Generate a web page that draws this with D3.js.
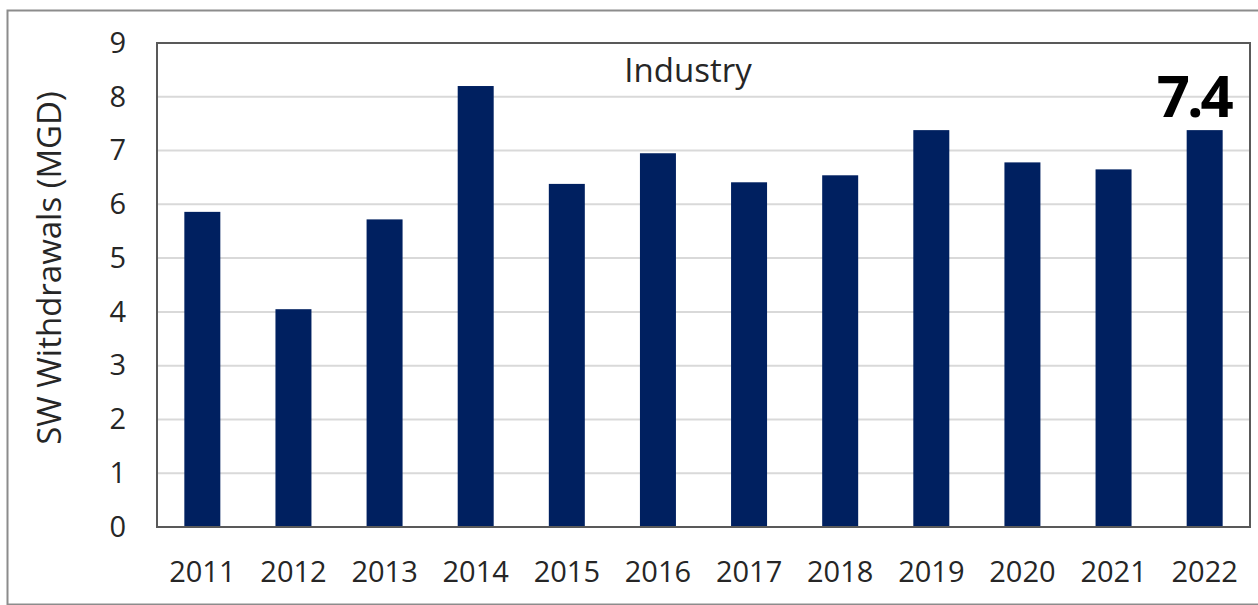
<!DOCTYPE html>
<html>
<head>
<meta charset="utf-8">
<script src="https://cdn.jsdelivr.net/npm/d3@7"></script>
<style>
  body { margin: 0; background: #fff; }
  svg { display: block; font-family: "Open Sans", sans-serif; }
</style>
</head>
<body>
<div id="chart"></div>
<script>
// Data
const years = ["2011", "2012", "2013", "2014", "2015", "2016", "2017", "2018", "2019", "2020", "2021", "2022"];
const withdrawals = [5.86, 4.05, 5.72, 8.2, 6.38, 6.95, 6.41, 6.54, 7.38, 6.78, 6.65, 7.38];
const yTicks = [0, 1, 2, 3, 4, 5, 6, 7, 8, 9];
const chartTitle = "Industry";
const yTitle = "SW Withdrawals (MGD)";
const lastLabel = "7.4";

const W = 1258, H = 605;
const margin = {top: 43, right: 8, bottom: 78, left: 157};
const width = W - margin.left - margin.right;
const height = H - margin.top - margin.bottom;

const data = years.map((y, i) => ({year: y, value: withdrawals[i]}));

const root = d3.select("#chart")
    .append("svg")
    .attr("width", W)
    .attr("height", H);

// outer border of the picture
root.append("rect")
    .attr("x", 7.5)
    .attr("y", 10.5)
    .attr("width", 1262)
    .attr("height", 594)
    .attr("fill", "none")
    .attr("stroke", "#8c8c8c")
    .attr("stroke-width", 2);

const svg = root.append("g")
    .attr("transform", `translate(${margin.left},${margin.top})`);

const x = d3.scaleBand()
    .domain(years)
    .range([0, width])
    .paddingInner(0.605)
    .paddingOuter(0.3);

const y = d3.scaleLinear()
    .domain([0, 9])
    .range([height, 0]);

// gridlines
svg.append("g")
    .selectAll("line")
    .data(yTicks.filter(t => t > 0 && t < 9))
    .join("line")
    .attr("x1", 0)
    .attr("x2", width)
    .attr("y1", d => y(d))
    .attr("y2", d => y(d))
    .attr("stroke", "#d9d9d9")
    .attr("stroke-width", 2);

// bars
svg.append("g")
    .selectAll("rect")
    .data(data)
    .join("rect")
    .attr("x", d => x(d.year))
    .attr("y", d => y(d.value))
    .attr("width", x.bandwidth())
    .attr("height", d => height - y(d.value))
    .attr("fill", "#002060");

// plot frame
svg.append("rect")
    .attr("x", 0)
    .attr("y", 0)
    .attr("width", width)
    .attr("height", height)
    .attr("fill", "none")
    .attr("stroke", "#595959")
    .attr("stroke-width", 2);

// axes
const xAxis = svg.append("g")
    .attr("transform", `translate(0,${height})`)
    .call(d3.axisBottom(x).tickSize(0).tickPadding(34));
xAxis.select(".domain").remove();
xAxis.selectAll("text")
    .style("font-family", "'Open Sans', sans-serif")
    .style("font-size", "29px")
    .attr("fill", "#262626");

const yAxis = svg.append("g")
    .call(d3.axisLeft(y).tickValues(yTicks).tickSize(0).tickPadding(31));
yAxis.select(".domain").remove();
yAxis.selectAll("text")
    .style("font-family", "'Open Sans', sans-serif")
    .style("font-size", "29px")
    .attr("fill", "#262626");

// chart title inside plot
svg.append("text")
    .attr("x", 531)
    .attr("y", 39)
    .attr("text-anchor", "middle")
    .style("font-size", "33px")
    .attr("fill", "#262626")
    .text(chartTitle);

// y axis title
svg.append("text")
    .attr("transform", "rotate(-90)")
    .attr("x", -225)
    .attr("y", -96)
    .attr("text-anchor", "middle")
    .style("font-size", "33px")
    .attr("fill", "#262626")
    .text(yTitle);

// label on latest year
const last = data[data.length - 1];
svg.append("text")
    .attr("x", x(last.year) + x.bandwidth() / 2 - 11)
    .attr("y", y(last.value) - 13)
    .attr("text-anchor", "middle")
    .style("font-size", "58px")
    .style("font-weight", "bold")
    .style("letter-spacing", "-3px")
    .attr("fill", "#000")
    .text(lastLabel);
</script>
</body>
</html>
